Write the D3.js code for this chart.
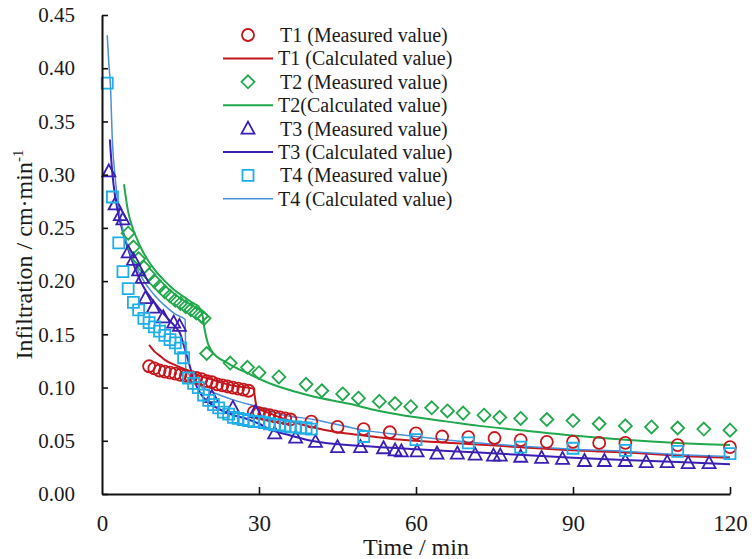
<!DOCTYPE html>
<html>
<head>
<meta charset="utf-8">
<script src="https://cdn.jsdelivr.net/npm/d3@7"></script>
<style>
body { margin: 0; background: #fff; }
svg text { font-family: "Liberation Serif", "Times New Roman", serif; fill: #1a1a1a; }
</style>
</head>
<body>
<div id="chart"></div>
<script>
// measured / calculated infiltration rate, [time (min), rate (cm/min)]
var t1Measured = [[9,0.120],[10,0.118],[11,0.116],[12,0.115],[13,0.114],[14,0.113],[15,0.112],[16,0.111],[17,0.110],[18,0.109],[19,0.108],[20,0.106],[21,0.105],[22,0.103],[23,0.102],[24,0.101],[25,0.100],[26,0.099],[27,0.098],[28,0.097],
  [29,0.077],[30,0.076],[31,0.075],[32,0.074],[33,0.073],[34,0.072],[35,0.071],[36,0.070],[40,0.068],[45,0.063],[50,0.061],[55,0.058],[60,0.057],[65,0.054],[70,0.0535],[75,0.0526],[80,0.0507],[85,0.049],[90,0.049],[95,0.048],[100,0.048],[110,0.046],[120,0.044]];
var t1Calc = [[9,0.140],[10,0.134],[11,0.130],[12,0.126],[14,0.121],[16,0.117],[18,0.112],[20,0.109],[22,0.106],[24,0.103],[26,0.101],[28.9,0.099],[29.5,0.083],[30,0.080],[32,0.076],[34,0.072],[37,0.067],[40,0.063],[45,0.058],[50,0.055],[55,0.052],[60,0.050],[70,0.047],[80,0.044],[90,0.041],[100,0.039],[110,0.036],[120,0.034]];

var t2Measured = [[5,0.245],[6,0.232],[7,0.221],[8,0.213],[9,0.206],[10,0.200],[11,0.195],[12,0.190],[13,0.186],[14,0.182],[15,0.179],[16,0.176],[17,0.173],[18,0.170],[19,0.167],[19.5,0.165],
  [20,0.132],[24.5,0.123],[27.8,0.119],[30,0.114],[33.8,0.110],[39,0.103],[42,0.097],[46,0.094],[49,0.090],[53,0.087],[56,0.085],[59,0.082],[63,0.081],[66,0.078],[69,0.076],[73,0.074],[76,0.072],[80,0.071],[85,0.070],[90,0.069],[95,0.066],[100,0.064],[105,0.063],[110,0.062],[115,0.061],[120,0.060]];
var t2Calc = [[4.2,0.291],[5,0.265],[6,0.248],[7,0.236],[8,0.226],[9,0.218],[10,0.211],[12,0.200],[14,0.191],[16,0.184],[17.5,0.179],[18.5,0.176],[19.2,0.168],[19.6,0.155],[20.2,0.142],[21,0.134],[24,0.123],[28,0.113],[32,0.104],[37,0.096],[40,0.092],[47,0.085],[53,0.078],[60,0.072],[66,0.068],[72,0.064],[80,0.060],[90,0.055],[100,0.051],[110,0.048],[120,0.046]];

var t3Measured = [[1.3,0.303],[2.5,0.272],[3.5,0.262],[4,0.258],[5,0.227],[6,0.220],[7,0.210],[7.7,0.203],[8.3,0.184],[9.8,0.175],[11.7,0.166],[13.7,0.161],[14.8,0.158],
  [21,0.091],[25,0.081],[29.3,0.077],[33,0.057],[37,0.053],[40.8,0.049],[45,0.044],[49.4,0.044],[53.8,0.043],[56,0.041],[57.2,0.040],[60.2,0.040],[64,0.038],[67.9,0.038],[71.3,0.037],[74.8,0.036],[76.1,0.036],[80,0.035],[84,0.034],[88,0.033],[92.2,0.031],[96,0.031],[100,0.031],[104,0.030],[108,0.030],[112,0.029],[116,0.029]];
var t3Calc = [[1.5,0.333],[2,0.300],[2.5,0.280],[3,0.266],[4,0.246],[5,0.230],[6,0.216],[7,0.204],[8,0.194],[10,0.180],[12,0.168],[14,0.157],[15,0.150],[15.6,0.140],[16.5,0.125],[17.5,0.108],[19,0.093],[21,0.084],[24.5,0.075],[28,0.070],[30,0.066],[32,0.061],[36,0.055],[40,0.050],[50,0.045],[60,0.042],[72,0.039],[90,0.034],[105,0.031],[120,0.028]];

var t4Measured = [[1,0.386],[2,0.279],[3.2,0.236],[4,0.209],[5,0.193],[6,0.180],[7,0.173],[8,0.165],[9,0.161],[10,0.157],[11,0.153],[12,0.149],[13,0.145],[14,0.142],[15,0.137],[15.6,0.128],[16.5,0.109],[17.5,0.104],[18.4,0.100],[19.4,0.093],[20.4,0.088],[21.3,0.084],[22.3,0.081],[23.2,0.077],[24.2,0.075],[25.1,0.072],
  [26,0.071],[27,0.070],[28,0.069],[29,0.068],[30,0.068],[31,0.067],[32,0.066],[33,0.065],[34,0.065],[35,0.064],[36,0.063],[37,0.063],[38,0.062],[39,0.062],[40,0.061],[50,0.054],[60,0.051],[70,0.048],[80,0.044],[90,0.043],[100,0.041],[110,0.040],[120,0.038]];
var t4Calc = [[1,0.431],[1.3,0.405],[1.6,0.385],[2,0.330],[2.5,0.298],[3,0.275],[4,0.248],[5,0.232],[6,0.219],[8,0.200],[10,0.187],[12,0.177],[14,0.169],[15.9,0.164],[16,0.118],[16.5,0.113],[18.6,0.102],[22,0.094],[26,0.087],[29.7,0.082],[34,0.075],[40.4,0.070],[50,0.060],[60,0.054],[72,0.048],[80,0.045],[90,0.042],[100,0.040],[110,0.037],[120,0.035]];

var xTicks = [0, 30, 60, 90, 120];
var yTicks = [0, 0.05, 0.10, 0.15, 0.20, 0.25, 0.30, 0.35, 0.40, 0.45];

var series = [
  {name: "T1", measured: t1Measured, calc: t1Calc, shape: "circle", color: "#c4161c", lineColor: "#c4161c", lw: 2, label: "T1 (Calculated value)"},
  {name: "T2", measured: t2Measured, calc: t2Calc, shape: "diamond", color: "#21a84c", lineColor: "#21a84c", lw: 2, label: "T2(Calculated value)"},
  {name: "T3", measured: t3Measured, calc: t3Calc, shape: "triangle", color: "#3b1fb3", lineColor: "#3b1fb3", lw: 2, label: "T3 (Calculated value)"},
  {name: "T4", measured: t4Measured, calc: t4Calc, shape: "square", color: "#1eaee8", lineColor: "#4a8fd8", lw: 1.5, label: "T4 (Calculated value)"}
];

var W = 752, H = 559;
var margin = {left: 102, right: 22, top: 15, bottom: 65};

var svg = d3.select("#chart").append("svg")
    .attr("width", W)
    .attr("height", H);

var x = d3.scaleLinear().domain([0, 120]).range([margin.left, W - margin.right]);
var y = d3.scaleLinear().domain([0, 0.45]).range([H - margin.bottom, margin.top]);

function shapePath(shape) {
  if (shape == "circle") return "M6,0A6,6 0 1,1 -6,0A6,6 0 1,1 6,0Z";
  if (shape == "diamond") return "M0,-6.5L6.5,0L0,6.5L-6.5,0Z";
  if (shape == "triangle") return "M0,-7L6.5,5L-6.5,5Z";
  return "M-5.5,-5.5H5.5V5.5H-5.5Z";
}

// lines
var line = d3.line()
    .x(d => x(d[0]))
    .y(d => y(d[1]))
    .curve(d3.curveMonotoneX);

series.forEach(function(s) {
  svg.append("path")
    .datum(s.calc)
    .attr("d", line)
    .attr("fill", "none")
    .attr("stroke", s.lineColor)
    .attr("stroke-width", s.lw);
});

// measured points
series.forEach(function(s) {
  svg.append("g").selectAll("path")
    .data(s.measured)
    .join("path")
    .attr("transform", d => "translate(" + x(d[0]) + "," + y(d[1]) + ")")
    .attr("d", shapePath(s.shape))
    .attr("fill", "none")
    .attr("stroke", s.color)
    .attr("stroke-width", 1.8);
});

// axes
var xAxis = d3.axisBottom(x).tickValues(xTicks).tickSize(-7).tickPadding(21).tickSizeOuter(0)
    .tickFormat(d3.format("d"));
var yAxis = d3.axisLeft(y).tickValues(yTicks).tickSize(-6).tickPadding(27).tickSizeOuter(0)
    .tickFormat(d3.format(".2f"));

var gx = svg.append("g").attr("transform", "translate(0," + y(0) + ")").call(xAxis);
var gy = svg.append("g").attr("transform", "translate(" + x(0) + ",0)").call(yAxis);
[gx, gy].forEach(function(g) {
  g.select(".domain").attr("stroke", "#111").attr("stroke-width", 2);
  g.selectAll(".tick line").attr("stroke", "#111").attr("stroke-width", 1.6);
});
gx.selectAll(".tick text").style("font-size", "23px").attr("fill", "#1a1a1a");
gy.selectAll(".tick text").style("font-size", "21px").attr("fill", "#1a1a1a");
gx.selectAll(".tick").filter(d => d == 0).select("line").remove();

svg.append("text")
    .attr("x", x(60))
    .attr("y", 555)
    .attr("text-anchor", "middle")
    .style("font-size", "24px")
    .text("Time / min");

var yt = svg.append("text")
    .attr("transform", "translate(32," + y(0.225) + ") rotate(-90)")
    .attr("text-anchor", "middle")
    .style("font-size", "24px");
yt.append("tspan").text("Infiltration / cm·min");
yt.append("tspan").attr("dy", -9).style("font-size", "15px").text("-1");

// legend
var legend = svg.append("g");
var rowH = 23.4;
series.forEach(function(s, i) {
  var y0 = 35 + i * 2 * rowH, y1 = y0 + rowH;
  legend.append("path")
    .attr("transform", "translate(248," + y0 + ")")
    .attr("d", shapePath(s.shape))
    .attr("fill", "none")
    .attr("stroke", s.color)
    .attr("stroke-width", 1.8);
  legend.append("text").attr("x", 280).attr("y", y0 + 7)
    .style("font-size", "20px").text(s.name + " (Measured value)");
  legend.append("line")
    .attr("x1", 223).attr("x2", 273).attr("y1", y1).attr("y2", y1)
    .attr("stroke", s.lineColor).attr("stroke-width", s.lw);
  legend.append("text").attr("x", 278).attr("y", y1 + 7)
    .style("font-size", "20px").text(s.label);
});
</script>
</body>
</html>
